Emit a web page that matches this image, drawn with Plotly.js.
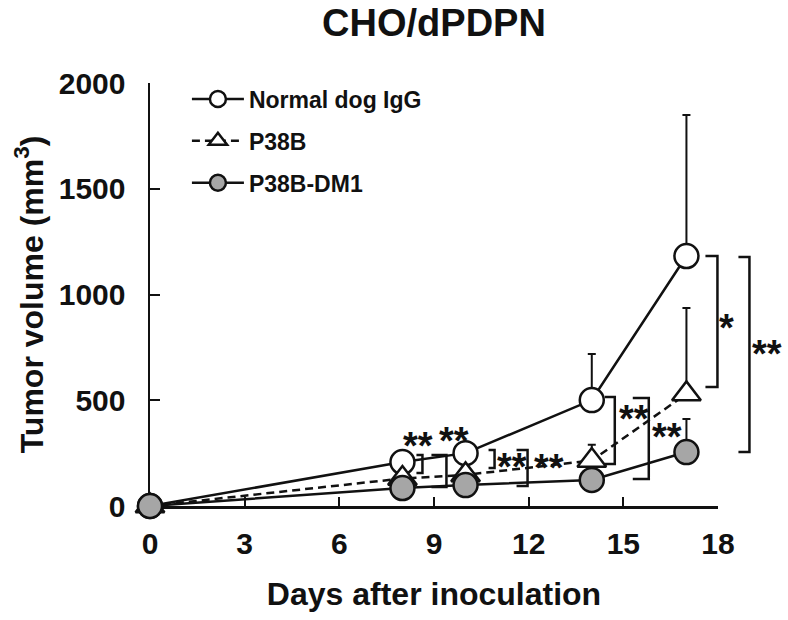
<!DOCTYPE html>
<html><head><meta charset="utf-8">
<script src="https://cdn.plot.ly/plotly-3.0.1.min.js"></script>
<style>html,body{margin:0;padding:0;background:#fff}#chart{width:788px;height:620px}</style>
</head><body><div id="chart"></div>
<script>
// ---- data ----
const days = [0, 8, 10, 14, 17];
const normalMean = [0, 208, 250, 501, 1182];
const normalSD   = [0, 40, 40, 218, 667];
const p38bMean   = [0, 130, 147, 215, 530];
const p38bSD     = [0, 30, 30, 75, 406];
const dm1Mean    = [0, 85, 99, 123, 255];
const dm1SD      = [0, 25, 25, 25, 156];
const seriesNames = ['Normal dog IgG', 'P38B', 'P38B-DM1'];
const xTicks = [0, 3, 6, 9, 12, 15, 18];
const yTicks = [0, 500, 1000, 1500, 2000];
// significance brackets
const bracketDay    = [8, 8, 10, 10, 14, 14, 17, 17];
const bracketTop    = [241, 241, 265, 265, 515, 511, 1182, 1177];
const bracketBottom = [156, 90, 180, 95, 199, 128, 563, 255];
const bracketLabel  = ['**', '**', '**', '**', '**', '**', '*', '**'];

// ---- styling / placement ----
const FONT = 'Liberation Sans, Arial, Helvetica, sans-serif';
const xRange = [0, 18], yRange = [0, 2000];
const bracketShift = [20, 44, 29, 62, 23, 57, 31, 63];
const bracketTick  = [6, 15, 6, 11, 10, 16, 12, 11];
const labelShift   = [16, 52, 46, 83, 42, 75, 40, 81];
const labelY       = [326, 350, 227, 222, 454, 369, 884, 761];

function errY(sd) {
  return {type: 'data', symmetric: false, array: sd, arrayminus: sd.map(() => 0),
          color: '#111', thickness: 2, width: 4};
}
const traces = [
  {x: days, y: normalMean, name: seriesNames[0], type: 'scatter', mode: 'lines+markers',
   legendgroup: 'a', cliponaxis: false,
   line: {color: '#111', width: 2.5},
   marker: {symbol: 'circle', size: 24, color: '#fff', line: {color: '#111', width: 2.5}},
   error_y: errY(normalSD)},
  {x: days, y: p38bMean, name: seriesNames[1], type: 'scatter', mode: 'lines+markers',
   legendgroup: 'b', cliponaxis: false,
   line: {color: '#111', width: 2.5, dash: '8px,5px'},
   marker: {symbol: 'triangle-up', size: 25, color: '#fff', line: {color: '#111', width: 2.5}},
   error_y: errY(p38bSD)},
  {x: days, y: dm1Mean, name: seriesNames[2], type: 'scatter', mode: 'lines+markers',
   legendgroup: 'c', cliponaxis: false,
   line: {color: '#111', width: 2.5},
   marker: {symbol: 'circle', size: 24, color: '#a6a6a6', line: {color: '#111', width: 2.5}},
   error_y: errY(dm1SD)}
];

// brackets are drawn in paper space (so they are not clipped at the plot edge),
// positioned from the data values through the axis ranges
const px = d => (d - xRange[0]) / (xRange[1] - xRange[0]);
const py = v => (v - yRange[0]) / (yRange[1] - yRange[0]);
const shapes = bracketDay.map((d, i) => {
  const a = bracketShift[i], b = a - bracketTick[i];
  const t = py(bracketTop[i]), u = py(bracketBottom[i]);
  return {type: 'path', xref: 'paper', yref: 'paper', xsizemode: 'pixel', xanchor: px(d),
          path: `M${b},${t} L${a},${t} L${a},${u} L${b},${u}`,
          line: {color: '#111', width: 2.5}};
});
const annotations = bracketDay.map((d, i) => ({
  xref: 'x', yref: 'y', x: d, y: labelY[i], xshift: labelShift[i], yshift: -9,
  text: bracketLabel[i], showarrow: false,
  font: {family: FONT, size: 38, weight: 'bold', color: '#111'}
}));

const axisFont = {family: FONT, size: 30, weight: 'bold', color: '#111'};
const layout = {
  width: 788, height: 620,
  margin: {l: 150, r: 70, t: 83, b: 114},
  paper_bgcolor: '#fff', plot_bgcolor: '#fff',
  showlegend: true,
  title: {text: 'CHO/dPDPN', x: 0.5, xref: 'paper', y: 0.963, yref: 'container', yanchor: 'middle',
          font: {family: FONT, size: 38, weight: 'bold', color: '#111'}},
  legend: {x: 0.065, y: 1.013, xanchor: 'left', yanchor: 'top', traceorder: 'grouped', tracegroupgap: 9,
           bgcolor: 'rgba(0,0,0,0)', itemsizing: 'trace', itemwidth: 52,
           font: {family: FONT, size: 23, weight: 'bold', color: '#111'}},
  xaxis: {range: xRange, tickvals: xTicks, ticktext: xTicks.map(String), ticks: 'inside', ticklen: 9,
          tickwidth: 2, tickcolor: '#111', showline: true, linecolor: '#111', linewidth: 2.5,
          showgrid: false, zeroline: false, layer: 'below traces', ticklabelstandoff: 9,
          tickfont: axisFont, fixedrange: true,
          title: {text: 'Days after inoculation', standoff: 24,
                  font: {family: FONT, size: 32, weight: 'bold', color: '#111'}}},
  yaxis: {range: yRange, tickvals: yTicks, ticktext: yTicks.map(String), ticks: 'inside', ticklen: 10,
          tickwidth: 2, tickcolor: '#111', showline: true, linecolor: '#111', linewidth: 2.5,
          showgrid: false, zeroline: false, layer: 'below traces', ticklabelstandoff: 16,
          tickfont: axisFont, fixedrange: true,
          title: {text: 'Tumor volume (mm<sup>3</sup>)', standoff: 6,
                  font: {family: FONT, size: 32, weight: 'bold', color: '#111'}}},
  shapes: shapes,
  annotations: annotations
};
Plotly.newPlot('chart', traces, layout, {staticPlot: true, displayModeBar: false});
</script></body></html>
